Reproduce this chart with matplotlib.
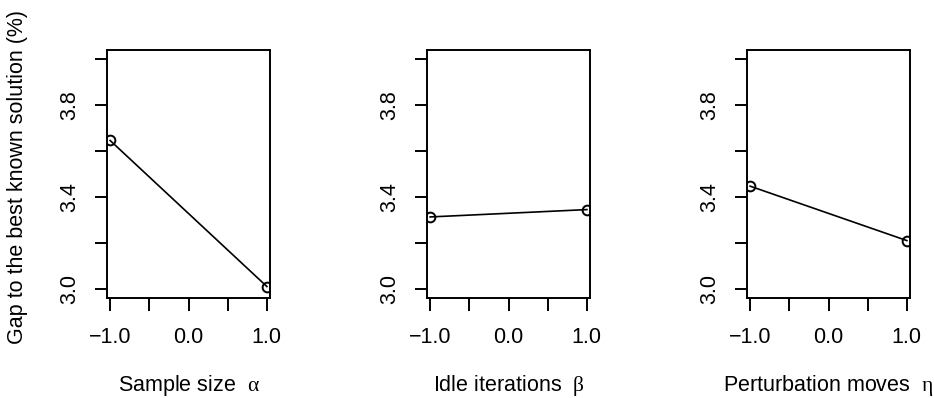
import matplotlib

matplotlib.use("Agg")

import matplotlib.pyplot as plt

plt.rcParams["font.family"] = ["Liberation Sans", "DejaVu Sans"]
plt.rcParams["mathtext.fontset"] = "custom"
plt.rcParams["mathtext.rm"] = "Liberation Serif"
plt.rcParams["mathtext.it"] = "Liberation Serif"

# factor levels (coded) and mean gap (%) for each parameter
levels = [-1.0, 1.0]
sample_size = [3.646, 3.010]
idle_iterations = [3.313, 3.345]
perturbation_moves = [3.447, 3.210]

panel_labels = [r"Sample size  $\alpha$", r"Idle iterations  $\beta$",
                r"Perturbation moves  $\eta$"]
panel_values = [sample_size, idle_iterations, perturbation_moves]

x_ticks = [-1.0, -0.5, 0.0, 0.5, 1.0]
x_tick_labels = ["\u22121.0", "", "0.0", "", "1.0"]
y_ticks = [3.0, 3.2, 3.4, 3.6, 3.8, 4.0]
y_tick_labels = ["3.0", "", "3.4", "", "3.8", ""]

FS = 15.5
W, H = 934, 398
fig = plt.figure(figsize=(W / 100, H / 100), dpi=100)

lefts = [107, 427, 747]
ax_w, top, bottom = 163, 50, 298

for left, values, label in zip(lefts, panel_values, panel_labels):
    ax = fig.add_axes([left / W, 1 - bottom / H, ax_w / W, (bottom - top) / H])
    ax.plot(levels, values, color="black", linewidth=1.2,
            marker="o", markersize=7, markerfacecolor="none",
            markeredgewidth=1.4, markeredgecolor="black")
    ax.set_xlim(-1.04, 1.04)
    ax.set_ylim(2.96, 4.04)
    ax.set_xticks(x_ticks)
    ax.set_xticklabels(x_tick_labels)
    ax.set_yticks(y_ticks)
    ax.set_yticklabels(y_tick_labels, rotation=90, va="center")
    ax.tick_params(axis="both", direction="out", length=9, width=1.4,
                   labelsize=FS, color="black")
    ax.tick_params(axis="x", pad=12)
    ax.tick_params(axis="y", pad=10)
    for spine in ax.spines.values():
        spine.set_linewidth(1.4)
    ax.set_xlabel(label, fontsize=FS, labelpad=18)

fig.text(18 / W, 1 - 177 / H, "Gap to the best known solution (%)",
         rotation=90, ha="center", va="center", fontsize=FS)

fig.savefig("out.png", dpi=100)
